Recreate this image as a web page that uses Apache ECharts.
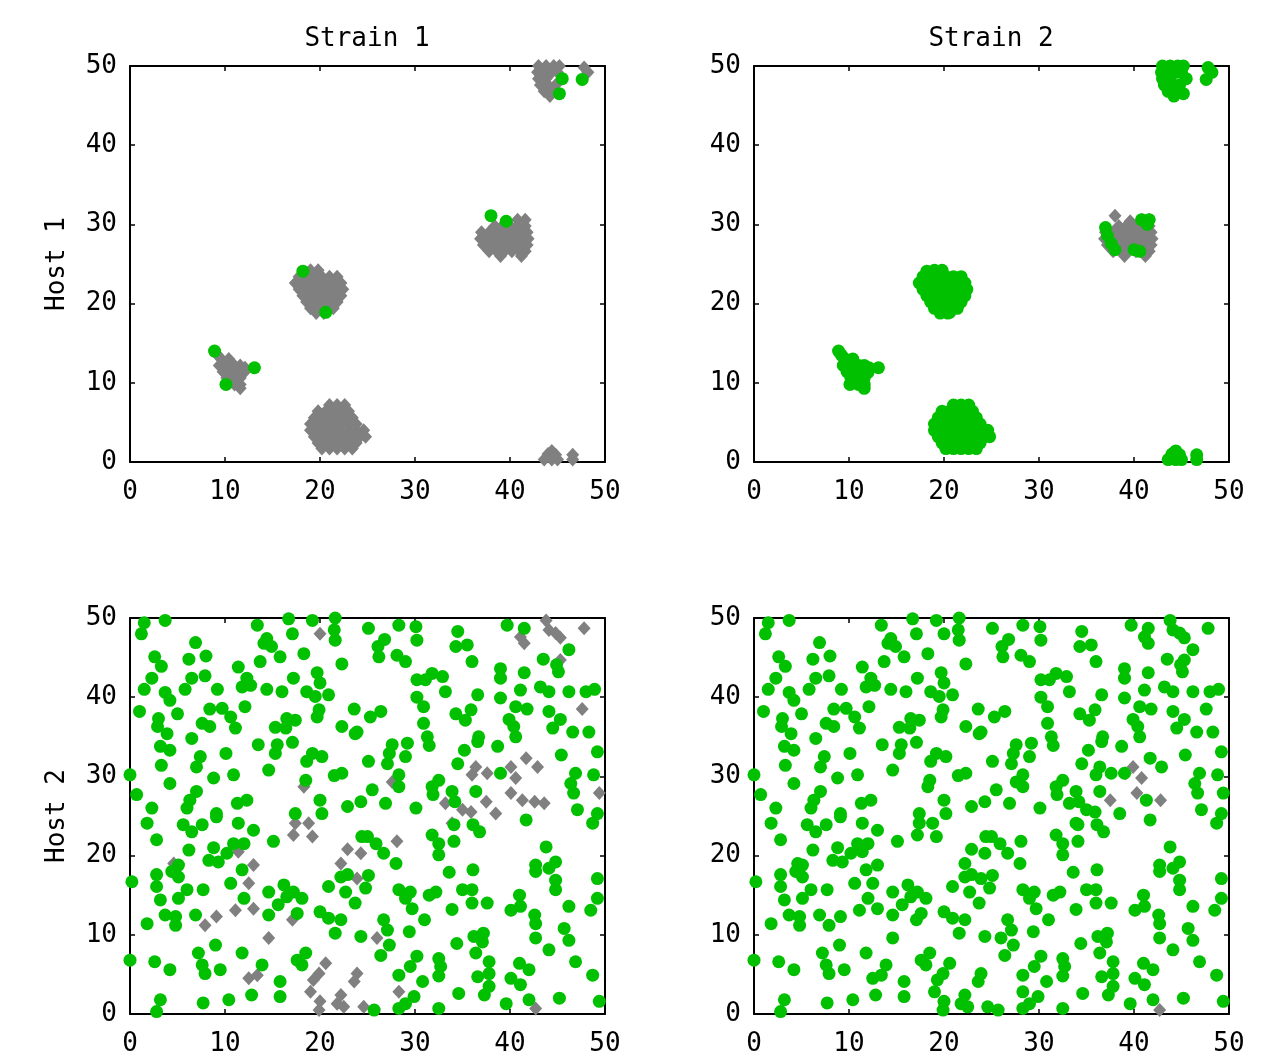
<!DOCTYPE html>
<html>
<head>
<meta charset="utf-8">
<title>Strain / Host</title>
<script src="https://cdn.jsdelivr.net/npm/echarts@6/dist/echarts.min.js"></script>
<style>
html, body { margin: 0; padding: 0; background: #fff; }
#chart { width: 1267px; height: 1064px; }
</style>
</head>
<body>
<div id="chart"></div>
<script>
const ticks = [0, 10, 20, 30, 40, 50];
const colTitles = ["Strain 1", "Strain 2"];
const rowTitles = ["Host 1", "Host 2"];

// Host 1: cell clusters (same cells in both strain panels)
const clusterA = [
  [9.6, 13.0], [10.4, 13.0], [9.2, 13.5],
  [9.4, 12.2], [10.2, 12.2], [11.0, 12.2], [11.6, 12.2], [12.1, 11.9],
  [9.8, 11.4], [10.6, 11.4], [11.4, 11.4], [12.0, 11.3],
  [10.2, 10.6], [11.0, 10.6], [11.6, 10.6],
  [10.5, 10.0], [11.0, 9.8], [11.6, 9.8], [11.6, 9.3]
];
const clusterB = [
  [19.0, 24.2], [19.8, 24.2],
  [17.8, 23.4], [18.6, 23.4], [19.4, 23.4], [20.2, 23.4], [21.0, 23.4], [21.8, 23.4],
  [17.4, 22.6], [18.2, 22.6], [19.0, 22.6], [19.8, 22.6], [20.6, 22.6], [21.4, 22.6], [22.2, 22.6],
  [17.8, 21.8], [18.6, 21.8], [19.4, 21.8], [20.2, 21.8], [21.0, 21.8], [21.8, 21.8], [22.4, 21.8],
  [18.2, 21.0], [19.0, 21.0], [19.8, 21.0], [20.6, 21.0], [21.4, 21.0], [22.2, 21.0],
  [18.6, 20.2], [19.4, 20.2], [20.2, 20.2], [21.0, 20.2], [21.8, 20.2],
  [19.0, 19.4], [19.8, 19.4], [20.6, 19.4], [21.4, 19.4],
  [19.6, 18.8], [20.4, 18.8]
];
const clusterC = [
  [40.8, 30.6], [41.6, 30.6],
  [38.4, 29.8], [39.2, 29.8], [40.0, 29.8], [40.8, 29.8], [41.6, 29.8],
  [37.0, 29.0], [37.8, 29.0], [38.6, 29.0], [39.4, 29.0], [40.2, 29.0], [41.0, 29.0], [41.8, 29.0],
  [36.9, 28.2], [37.6, 28.2], [38.4, 28.2], [39.2, 28.2], [40.0, 28.2], [40.8, 28.2], [41.6, 28.2], [41.9, 28.2],
  [37.2, 27.4], [38.0, 27.4], [38.8, 27.4], [39.6, 27.4], [40.4, 27.4], [41.2, 27.4], [41.8, 27.4],
  [37.8, 26.6], [38.6, 26.6], [39.4, 26.6], [40.2, 26.6], [41.0, 26.6], [41.6, 26.6],
  [39.0, 26.0], [41.2, 26.0]
];
const clusterD = [
  [21.0, 7.2], [21.8, 7.2], [22.6, 7.2],
  [19.8, 6.4], [20.6, 6.4], [21.4, 6.4], [22.2, 6.4], [23.0, 6.4],
  [19.4, 5.6], [20.2, 5.6], [21.0, 5.6], [21.8, 5.6], [22.6, 5.6], [23.4, 5.6],
  [19.0, 4.8], [19.8, 4.8], [20.6, 4.8], [21.4, 4.8], [22.2, 4.8], [23.0, 4.8], [23.8, 4.8],
  [19.0, 4.0], [19.8, 4.0], [20.6, 4.0], [21.4, 4.0], [22.2, 4.0], [23.0, 4.0], [23.8, 4.0], [24.6, 4.0],
  [19.4, 3.2], [20.2, 3.2], [21.0, 3.2], [21.8, 3.2], [22.6, 3.2], [23.4, 3.2], [24.2, 3.2], [24.8, 3.2],
  [19.8, 2.4], [20.6, 2.4], [21.4, 2.4], [22.2, 2.4], [23.0, 2.4], [23.8, 2.4],
  [20.2, 1.7], [21.0, 1.7], [21.8, 1.7], [22.6, 1.7], [23.4, 1.7]
];
const clusterE = [
  [43.0, 50.0], [43.8, 50.0], [44.6, 50.0], [45.2, 50.0],
  [42.9, 49.2], [43.6, 49.2], [44.4, 49.2], [45.0, 49.2],
  [43.0, 48.4], [43.8, 48.4],
  [43.2, 47.6], [44.0, 47.6], [44.8, 47.6],
  [43.6, 46.8], [44.4, 46.8], [44.2, 46.2],
  [47.8, 49.8], [48.2, 49.2]
];
const clusterF = [
  [43.6, 0.3], [44.4, 0.3], [45.0, 0.3], [44.0, 1.0], [44.8, 0.9], [44.4, 1.4],
  [46.6, 0.3], [46.6, 0.9]
];
// strain 1 green cells at cluster edges
const s1Green = [
  [8.9, 14.0], [10.1, 9.8], [13.1, 11.9], [18.2, 24.1], [20.6, 18.9],
  [45.5, 48.4], [45.2, 46.5], [47.6, 48.3]
];
const s1GreenC = [[38.0, 31.1], [39.6, 30.4]];
// strain 2 green cells around cluster C
const s2GreenC = [
  [37.0, 29.6], [37.2, 28.6], [37.6, 27.6], [38.0, 26.8],
  [40.8, 30.6], [41.6, 30.6], [41.4, 30.0], [40.0, 26.8], [40.6, 26.6]
];

// Host 2: scattered cells
const host2Green = [
  [1.5, 49.4], [1.2, 48.0], [3.7, 49.7], [6.9, 46.9], [2.6, 45.1], [3.3, 43.9], [6.2, 44.8], [8.0, 45.2],
  [2.3, 42.4], [1.5, 41.0], [6.5, 42.4], [5.8, 41.0], [7.9, 42.7], [3.7, 40.6], [4.2, 39.6], [9.2, 41.0],
  [1.0, 38.2], [5.0, 37.9], [3.0, 37.3], [2.9, 36.3], [3.9, 35.4], [8.4, 38.5], [9.7, 38.6], [7.6, 36.7],
  [8.4, 36.3], [10.6, 37.5], [11.1, 36.1], [6.5, 34.8], [11.4, 43.8], [12.3, 42.4], [11.8, 41.3], [12.7, 41.5],
  [12.1, 38.8], [13.4, 49.1], [16.7, 49.9], [19.2, 49.7], [21.6, 50.0], [14.4, 47.4], [14.9, 46.4], [15.8, 45.1],
  [14.1, 46.8], [17.1, 48.0], [18.3, 45.5], [13.7, 44.5], [21.5, 48.5], [21.6, 47.2], [22.3, 44.2], [17.2, 42.4],
  [14.4, 41.0], [16.0, 40.7], [19.7, 43.1], [20.0, 41.8], [18.6, 40.7], [19.5, 40.1], [20.9, 40.3], [19.9, 38.4],
  [19.7, 37.5], [16.5, 37.3], [17.4, 37.1], [15.3, 36.2], [16.4, 36.1], [17.1, 34.3], [13.5, 34.0], [15.5, 34.0],
  [15.3, 32.9], [14.6, 30.8], [23.6, 38.5], [22.3, 36.3], [23.7, 35.4], [10.1, 32.9], [7.4, 32.5], [7.0, 31.2],
  [3.2, 33.8], [3.3, 31.4], [4.2, 33.3], [19.2, 32.9], [20.2, 32.5], [18.6, 31.9], [0.0, 30.2], [4.2, 29.1],
  [8.8, 29.8], [10.9, 30.2], [18.5, 29.5], [21.5, 30.1], [22.3, 30.4], [0.7, 27.7], [2.3, 26.0], [7.0, 28.1],
  [6.3, 27.0], [6.0, 26.0], [12.3, 27.0], [11.3, 26.6], [20.0, 27.0], [20.2, 25.3], [17.4, 25.3], [22.9, 26.2],
  [24.3, 26.8], [9.1, 25.3],
  [25.1, 48.7], [28.3, 49.1], [30.1, 48.9], [30.2, 47.2], [26.8, 47.3], [26.1, 46.4], [26.2, 45.1], [28.1, 45.3],
  [29.0, 44.5], [34.5, 48.3], [34.3, 46.4], [35.5, 46.6], [36.0, 44.5], [39.7, 49.1], [41.5, 48.7], [39.0, 43.6],
  [39.0, 42.4], [41.5, 43.1], [43.5, 44.8], [44.9, 44.1], [46.2, 46.0], [45.1, 43.2], [30.2, 42.2], [31.1, 42.2],
  [31.8, 43.0], [32.9, 42.6], [33.2, 40.7], [30.2, 40.0], [30.9, 38.8], [36.6, 40.3], [39.0, 39.9], [41.1, 40.9],
  [43.2, 41.3], [44.1, 40.7], [46.2, 40.7], [48.0, 40.7], [48.9, 41.0], [40.6, 38.8], [41.8, 38.5], [34.3, 37.9],
  [35.9, 38.4], [35.3, 37.1], [25.3, 37.5], [26.4, 38.2], [23.9, 35.6], [39.9, 37.2], [40.4, 36.3], [40.6, 35.0],
  [44.1, 38.2], [45.3, 37.2], [44.5, 36.1], [46.6, 35.6], [48.3, 35.6], [30.9, 36.7], [31.3, 35.0], [31.5, 33.9],
  [36.7, 35.0], [36.6, 34.4], [38.7, 33.8], [35.2, 33.3], [34.5, 31.6], [39.0, 30.4], [36.4, 28.1], [27.6, 34.0],
  [27.3, 32.9], [27.1, 31.6], [29.2, 34.2], [29.0, 32.5], [28.3, 30.2], [28.3, 28.7], [25.1, 31.9], [25.5, 28.3],
  [26.9, 26.6], [31.9, 27.7], [31.8, 28.7], [32.5, 29.5], [30.1, 26.0], [33.9, 28.1], [34.2, 26.8], [45.4, 32.7],
  [49.2, 33.1], [46.9, 30.4], [46.4, 29.1], [46.7, 27.9], [48.8, 30.2], [47.1, 25.8], [49.2, 25.3],
  [1.8, 24.1], [5.6, 23.9], [6.5, 23.0], [7.6, 23.9], [9.1, 24.9], [11.4, 24.1], [13.0, 23.2], [2.8, 22.0],
  [15.1, 21.8], [8.8, 21.0], [10.9, 21.5], [12.0, 21.5], [10.2, 20.3], [9.3, 19.2], [8.3, 19.4], [6.2, 20.7],
  [5.1, 18.8], [4.4, 18.0], [2.8, 17.6], [2.8, 16.1], [3.2, 14.4], [5.1, 17.3], [6.0, 15.7], [5.1, 14.6],
  [0.2, 16.7], [7.7, 15.7], [10.6, 16.5], [11.8, 18.2], [12.0, 14.6], [3.7, 12.5], [4.8, 12.3], [4.8, 11.2],
  [1.8, 11.4], [6.9, 12.5], [14.6, 15.4], [16.2, 16.3], [17.2, 15.4], [18.1, 14.6], [15.6, 13.8], [14.6, 12.5],
  [17.6, 12.7], [16.5, 14.8], [20.0, 12.9], [20.9, 12.1], [22.2, 11.9], [21.6, 10.2], [20.9, 16.1], [22.2, 17.3],
  [22.9, 17.6], [22.7, 15.4], [23.7, 14.0], [24.4, 22.4], [24.3, 9.8], [9.0, 8.7], [7.2, 7.7], [7.6, 6.2],
  [7.9, 5.1], [9.5, 5.6], [11.8, 7.7], [13.9, 6.2], [17.6, 6.8], [18.5, 7.7], [18.1, 6.2], [0.0, 6.8],
  [2.6, 6.6], [4.2, 5.6], [15.8, 4.1], [15.8, 2.2], [12.8, 2.4], [10.4, 1.8], [7.7, 1.4], [3.2, 1.8], [2.8, 0.3],
  [48.7, 24.1], [41.7, 24.5], [25.0, 22.4], [25.9, 21.5], [26.7, 20.3], [28.0, 19.0], [31.8, 22.6], [32.5, 21.5],
  [32.5, 20.1], [34.1, 23.9], [34.1, 21.8], [36.1, 23.9], [36.8, 23.0], [43.8, 21.1], [42.7, 18.8], [42.7, 18.0],
  [44.8, 19.2], [44.1, 18.4], [44.8, 16.9], [44.8, 15.7], [49.2, 17.1], [49.2, 14.6], [48.5, 13.1], [46.2, 13.6],
  [33.6, 17.9], [36.1, 18.2], [25.1, 17.5], [24.8, 15.9], [28.3, 15.7], [29.5, 15.4], [29.0, 14.6], [29.7, 13.3],
  [31.5, 15.0], [32.2, 15.4], [31.0, 11.9], [29.4, 10.4], [33.9, 13.2], [35.0, 15.7], [36.0, 15.7], [36.0, 14.0],
  [37.6, 14.0], [41.0, 15.0], [40.1, 13.1], [41.1, 13.6], [42.6, 12.5], [42.7, 11.4], [26.7, 11.9], [27.1, 10.6],
  [27.3, 8.7], [26.4, 7.4], [30.2, 7.3], [29.5, 6.0], [32.5, 7.0], [32.7, 6.0], [32.5, 4.8], [30.8, 4.1],
  [28.3, 4.9], [34.4, 8.9], [36.2, 9.8], [37.2, 10.2], [37.1, 9.1], [36.4, 7.7], [37.8, 6.6], [37.8, 5.1],
  [37.8, 3.5], [36.6, 4.7], [37.3, 2.4], [34.6, 2.6], [32.5, 0.7], [28.3, 0.7], [29.9, 2.2], [29.0, 1.3],
  [25.7, 0.5], [41.0, 6.4], [42.0, 5.6], [40.1, 4.5], [41.1, 3.7], [42.0, 1.8], [39.6, 1.3], [42.7, 9.6],
  [44.1, 8.1], [45.7, 10.8], [46.2, 9.3], [46.9, 6.6], [45.2, 2.0], [48.7, 4.9], [49.4, 1.6]
];
// grey cells, strain 1 panel
const host2Grey1 = [
  [20.0, 48.0], [18.3, 28.7],
  [43.8, 49.7], [44.1, 48.5], [44.8, 48.1], [45.3, 47.5], [41.1, 47.6], [41.5, 46.8], [47.8, 48.7], [45.3, 44.7],
  [47.6, 38.5], [41.7, 32.3], [42.9, 31.2], [40.1, 31.2], [36.4, 31.2], [36.0, 30.2], [37.6, 30.4], [40.6, 29.8],
  [40.1, 27.9], [41.3, 27.0], [42.6, 26.8], [43.6, 26.6], [37.5, 26.8], [27.6, 29.3], [33.2, 26.6], [35.0, 25.8],
  [35.9, 25.5], [38.5, 25.3], [49.4, 27.9],
  [17.4, 24.1], [18.8, 24.1], [17.2, 22.6], [19.2, 22.4], [13.0, 18.8], [12.5, 16.5], [13.0, 13.3], [11.1, 13.1],
  [9.1, 12.3], [7.9, 11.2], [17.1, 11.9], [14.6, 9.6], [11.4, 20.5], [4.6, 19.0], [22.9, 20.8], [24.3, 20.3],
  [22.2, 19.0], [23.9, 17.1], [20.6, 6.4], [12.5, 4.5], [13.4, 4.9], [19.3, 4.3], [19.9, 5.1], [19.0, 2.8],
  [20.0, 1.6], [19.9, 0.5], [22.2, 2.4], [21.8, 1.3], [22.5, 0.9], [23.9, 5.1], [23.6, 4.1], [24.6, 0.9],
  [33.9, 24.1], [28.1, 21.8], [26.0, 9.6], [28.3, 2.8], [42.7, 0.7]
];
// grey cells, strain 2 panel
const host2Grey2 = [
  [39.1, 30.4], [39.9, 31.2], [40.8, 29.8], [40.3, 27.9], [37.5, 27.0], [42.8, 27.0], [42.7, 0.5]
];

const font = "DejaVu Sans Mono";
const green = "#00c000";
const grey = "#808080";

const panels = [
  {
    grey: [].concat(clusterA, clusterB, clusterC, clusterD, clusterE, clusterF),
    green: s1Green.concat(s1GreenC)
  },
  {
    grey: clusterC.concat(s1GreenC),
    green: [].concat(clusterA, clusterB, clusterD, clusterE, clusterF, s1Green, s2GreenC)
  },
  { grey: host2Grey1, green: host2Green },
  {
    grey: host2Grey2,
    green: host2Green.concat(host2Grey1.filter(p =>
      !host2Grey2.some(q => Math.hypot(p[0] - q[0], p[1] - q[1]) < 1)))
  }
];

const boxes = [
  { left: 130, top: 66 },
  { left: 754, top: 66 },
  { left: 130, top: 618 },
  { left: 754, top: 618 }
];

function makeAxis(gi, position, main, name) {
  const ax = {
    type: "value",
    gridIndex: gi,
    position: position,
    min: ticks[0],
    max: ticks[ticks.length - 1],
    interval: ticks[1] - ticks[0],
    axisLine: { show: true, onZero: false, lineStyle: { color: "#000", width: 2 } },
    axisTick: { show: true, inside: true, length: 5, lineStyle: { color: "#000", width: 1.5 } },
    axisLabel: {
      show: main,
      color: "#000",
      fontFamily: font,
      fontSize: 26,
      margin: position === "bottom" ? 17 : 13
    },
    splitLine: { show: false }
  };
  if (name) {
    ax.name = name;
    ax.nameLocation = "middle";
    ax.nameRotate = 90;
    ax.nameGap = 60;
    ax.nameTextStyle = { color: "#000", fontFamily: font, fontSize: 26 };
  }
  return ax;
}

const xAxis = [];
const yAxis = [];
const series = [];
boxes.forEach((b, i) => {
  xAxis.push(makeAxis(i, "bottom", true));
  xAxis.push(makeAxis(i, "top", false));
  yAxis.push(makeAxis(i, "left", true, i % 2 === 0 ? rowTitles[i / 2] : null));
  yAxis.push(makeAxis(i, "right", false));
  series.push({
    type: "scatter",
    xAxisIndex: 2 * i,
    yAxisIndex: 2 * i,
    data: panels[i].grey,
    symbol: "diamond",
    symbolSize: [13, 14],
    itemStyle: { color: grey, opacity: 1 },
    silent: true
  });
  series.push({
    type: "scatter",
    xAxisIndex: 2 * i,
    yAxisIndex: 2 * i,
    data: panels[i].green,
    symbol: "circle",
    symbolSize: 13,
    itemStyle: { color: green, opacity: 1 },
    silent: true
  });
});

const chart = echarts.init(document.getElementById("chart"), null, { renderer: "canvas" });
chart.setOption({
  backgroundColor: "#fff",
  animation: false,
  title: colTitles.map((t, i) => ({
    text: t,
    left: boxes[i].left + 232,
    top: 21,
    textAlign: "center",
    textStyle: { color: "#000", fontFamily: font, fontSize: 26, fontWeight: "normal" }
  })),
  grid: boxes.map(b => ({ left: b.left, top: b.top, width: 475, height: 396 })),
  xAxis: xAxis,
  yAxis: yAxis,
  series: series
});
</script>
</body>
</html>
